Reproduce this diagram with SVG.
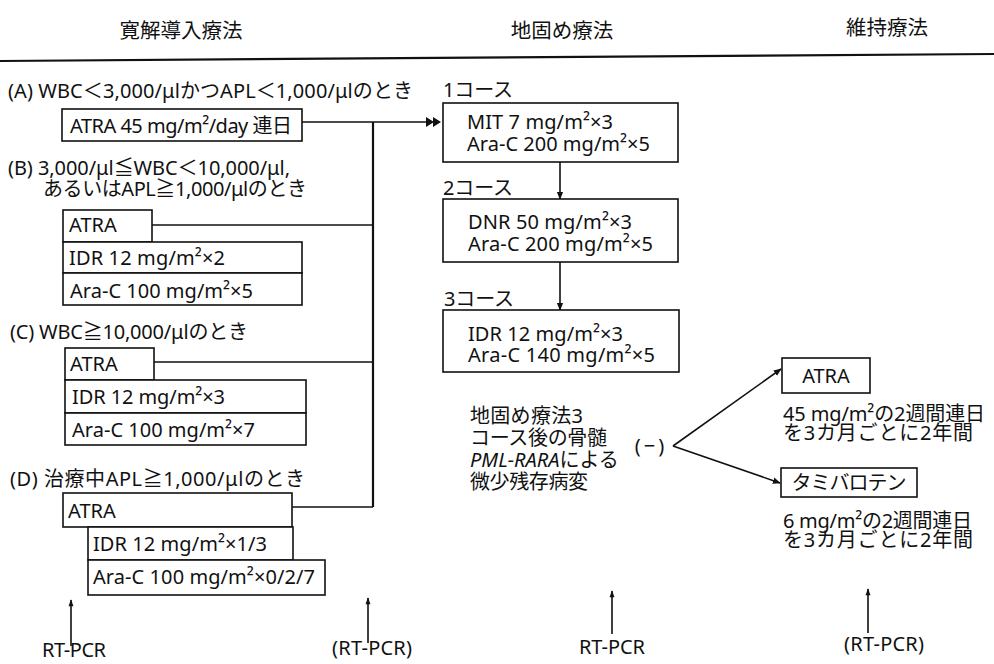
<svg xmlns="http://www.w3.org/2000/svg" width="994" height="664" viewBox="0 0 994 664">
<style>
text{font-family:"Noto Sans","Noto Sans CJK JP",sans-serif;font-size:20px;fill:#111}
.h{font-family:"Noto Sans CJK JP",sans-serif;font-size:20.5px}
.b{fill:#fff;stroke:#111;stroke-width:1.6}
.c{fill:none;stroke:#111;stroke-width:1.6}
.m{text-anchor:middle}
</style>
<defs>
<marker id="ah" viewBox="0 0 10 10" refX="9" refY="5" markerWidth="8" markerHeight="8" markerUnits="userSpaceOnUse" orient="auto"><path d="M0,1 L10,5 L0,9 z" fill="#111"/></marker>
<marker id="au" viewBox="0 0 10 10" refX="9" refY="5" markerWidth="9" markerHeight="7" markerUnits="userSpaceOnUse" orient="auto"><path d="M0,1.5 L10,5 L0,8.5 z" fill="#111"/></marker>
</defs>
<rect width="994" height="664" fill="#fff"/>
<g id="headers">
<text class="h m" x="181" y="38">寛解導入療法</text>
<text class="h m" x="562" y="38">地固め療法</text>
<text class="h m" x="887" y="35">維持療法</text>
<line x1="0" y1="61" x2="994" y2="54" stroke="#111" stroke-width="2.2"/>
</g>
<g id="connectors">
<line class="c" x1="302" y1="122" x2="428" y2="122"/>
<path d="M426,117 L434,122 L426,127 z M433,117 L441,122 L433,127 z" fill="#111"/>
<line x1="373" y1="122" x2="373" y2="507" stroke="#111" stroke-width="2.2"/>
<line class="c" x1="152" y1="225" x2="373" y2="225"/>
<line class="c" x1="154" y1="362" x2="373" y2="362"/>
<line class="c" x1="292" y1="507" x2="373" y2="507"/>
<line class="c" x1="560" y1="162" x2="560" y2="199" marker-end="url(#ah)"/>
<line class="c" x1="560" y1="262" x2="560" y2="310" marker-end="url(#ah)"/>
<line class="c" x1="673" y1="446" x2="781" y2="369" marker-end="url(#ah)"/>
<line class="c" x1="673" y1="446" x2="780" y2="483" marker-end="url(#ah)"/>
<line class="c" x1="71" y1="646" x2="71" y2="600" marker-end="url(#au)"/>
<line class="c" x1="368" y1="643" x2="368" y2="598" marker-end="url(#au)"/>
<line class="c" x1="612" y1="634" x2="612" y2="591" marker-end="url(#au)"/>
<line class="c" x1="868" y1="633" x2="868" y2="589" marker-end="url(#au)"/>
</g>
<g id="A">
<text x="8" y="98" textLength="405">(A) WBC＜3,000/μlかつAPL＜1,000/μlのとき</text>
<rect class="b" x="62" y="109" width="240" height="32"/>
<text x="70" y="133" textLength="222">ATRA 45 mg/m²/day 連日</text>
</g>
<g id="B">
<text><tspan x="8" y="175" textLength="282">(B) 3,000/μl≦WBC＜10,000/μl,</tspan><tspan x="43" y="196" textLength="264">あるいはAPL≧1,000/μlのとき</tspan></text>
<rect class="b" x="63" y="210" width="89" height="32"/>
<text x="69" y="232">ATRA</text>
<rect class="b" x="63" y="242" width="239" height="31"/>
<text x="69" y="265" textLength="156">IDR 12 mg/m²×2</text>
<rect class="b" x="63" y="273" width="239" height="32"/>
<text x="70" y="298" textLength="183">Ara-C 100 mg/m²×5</text>
</g>
<g id="C">
<text x="10" y="339" textLength="238">(C) WBC≧10,000/μlのとき</text>
<rect class="b" x="65" y="348" width="89" height="32"/>
<text x="70" y="371">ATRA</text>
<rect class="b" x="65" y="380" width="241" height="33"/>
<text x="72" y="404" textLength="153">IDR 12 mg/m²×3</text>
<rect class="b" x="65" y="413" width="241" height="32"/>
<text x="72" y="437" textLength="183">Ara-C 100 mg/m²×7</text>
</g>
<g id="D">
<text x="10" y="486" textLength="295">(D) 治療中APL≧1,000/μlのとき</text>
<rect class="b" x="63" y="493" width="229" height="34"/>
<text x="68" y="518">ATRA</text>
<rect class="b" x="88" y="527" width="205" height="33"/>
<text x="93" y="551" textLength="174">IDR 12 mg/m²×1/3</text>
<rect class="b" x="88" y="560" width="237" height="35"/>
<text x="93" y="584" textLength="222">Ara-C 100 mg/m²×0/2/7</text>
</g>
<g id="course1">
<text x="443" y="97" textLength="70">1コース</text>
<rect class="b" x="443" y="103" width="235" height="59"/>
<text><tspan x="467" y="129" textLength="146">MIT 7 mg/m²×3</tspan><tspan x="467" y="151" textLength="183">Ara-C 200 mg/m²×5</tspan></text>
</g>
<g id="course2">
<text x="443" y="195" textLength="70">2コース</text>
<rect class="b" x="443" y="199" width="235" height="63"/>
<text><tspan x="468" y="229" textLength="164">DNR 50 mg/m²×3</tspan><tspan x="468" y="251" textLength="185">Ara-C 200 mg/m²×5</tspan></text>
</g>
<g id="course3">
<text x="444" y="306" textLength="70">3コース</text>
<rect class="b" x="443" y="310" width="236" height="62"/>
<text><tspan x="468" y="341" textLength="155">IDR 12 mg/m²×3</tspan><tspan x="468" y="362" textLength="187">Ara-C 140 mg/m²×5</tspan></text>
</g>
<g id="mrd">
<text><tspan x="470" y="423" textLength="113">地固め療法3</tspan><tspan x="470" y="445" textLength="137">コース後の骨髄</tspan><tspan x="470" y="467" font-style="italic">PML-RARA</tspan><tspan>による</tspan><tspan x="470" y="489" textLength="118">微少残存病変</tspan></text>
<text class="m" x="651" y="453" letter-spacing="3">(−)</text>
</g>
<g id="atra-maint">
<rect class="b" x="782" y="358" width="88" height="35"/>
<text class="m" x="826" y="383">ATRA</text>
<text><tspan x="783" y="421" textLength="202">45 mg/m²の2週間連日</tspan><tspan x="783" y="440" textLength="190">を3カ月ごとに2年間</tspan></text>
</g>
<g id="tamibarotene">
<rect class="b" x="781" y="468" width="136" height="29"/>
<text class="m" x="849" y="490" textLength="115">タミバロテン</text>
<text><tspan x="783" y="528" textLength="189">6 mg/m²の2週間連日</tspan><tspan x="783" y="547" textLength="190">を3カ月ごとに2年間</tspan></text>
</g>
<g id="rtpcr">
<text class="m" x="74" y="657" textLength="64">RT-PCR</text>
<text class="m" x="372" y="655" textLength="80">(RT-PCR)</text>
<text class="m" x="612" y="654" textLength="66">RT-PCR</text>
<text class="m" x="884" y="651" textLength="80">(RT-PCR)</text>
</g>
</svg>
